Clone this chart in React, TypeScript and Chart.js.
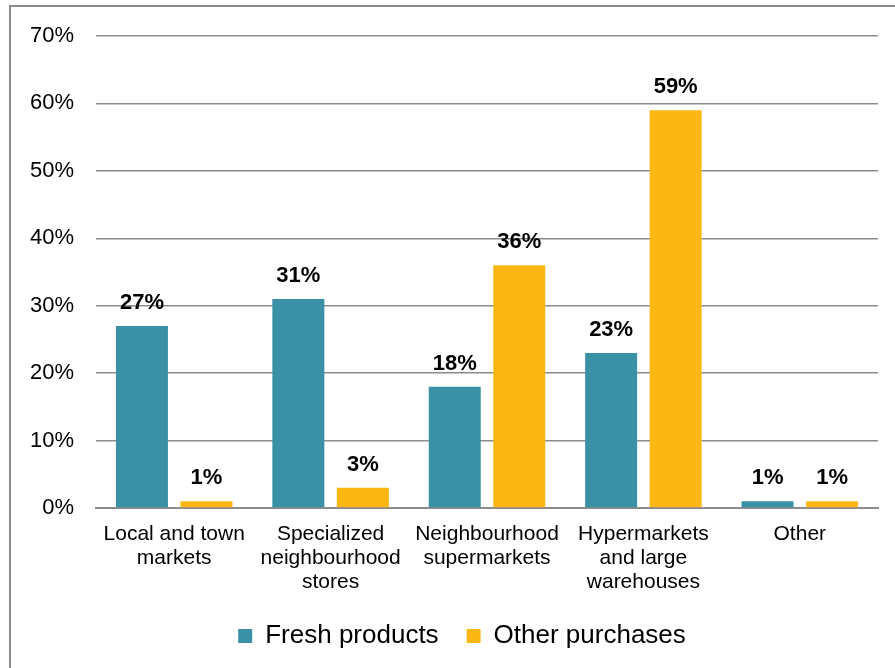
import React, { useEffect, useRef } from "react";
import { Chart, registerables } from "chart.js";

Chart.register(...registerables);

const categories = [
  ["Local and town", "markets"],
  ["Specialized", "neighbourhood", "stores"],
  ["Neighbourhood", "supermarkets"],
  ["Hypermarkets", "and large", "warehouses"],
  ["Other"],
];
const seriesNames = ["Fresh products", "Other purchases"];
const freshProducts = [27, 31, 18, 23, 1];
const otherPurchases = [1, 3, 36, 59, 1];
const yMin = 0;
const yMax = 70;
const yStep = 10;

const FONT = '"Liberation Sans", Arial, Helvetica, sans-serif';
const TEAL = "#3A91A6";
const ORANGE = "#FDB714";
const GRID = "#8C8C8C";

const valueLabels = {
  id: "valueLabels",
  afterDatasetsDraw(chart: any) {
    const ctx = chart.ctx;
    ctx.save();
    ctx.font = `bold 22px ${FONT}`;
    ctx.fillStyle = "#000";
    ctx.textAlign = "center";
    ctx.textBaseline = "alphabetic";
    chart.data.datasets.forEach((ds: any, i: number) => {
      chart.getDatasetMeta(i).data.forEach((bar: any, j: number) => {
        ctx.fillText(`${ds.data[j]}%`, bar.x, bar.y - 17);
      });
    });
    ctx.restore();
  },
};

const legendShift = {
  id: "legendShift",
  afterLayout(chart: any) {
    if (chart.legend) {
      chart.legend.left += 46;
    }
  },
};

export default function App() {
  const ref = useRef<HTMLCanvasElement | null>(null);
  useEffect(() => {
    if (!ref.current) return;
    const chart = new Chart(ref.current, {
      type: "bar",
      data: {
        labels: categories,
        datasets: [
          {
            label: seriesNames[0],
            data: freshProducts,
            backgroundColor: TEAL,
            categoryPercentage: 0.825,
            barPercentage: 0.806,
          },
          {
            label: seriesNames[1],
            data: otherPurchases,
            backgroundColor: ORANGE,
            categoryPercentage: 0.825,
            barPercentage: 0.806,
          },
        ],
      },
      options: {
        animation: false,
        responsive: false,
        maintainAspectRatio: false,
        layout: { padding: { top: 36, right: 17, left: 0, bottom: 9 } },
        plugins: {
          tooltip: { enabled: false },
          legend: {
            position: "bottom",
            labels: {
              boxWidth: 14,
              boxHeight: 14,
              padding: 28,
              color: "#000",
              font: { family: FONT, size: 26 },
            },
          },
        },
        scales: {
          x: {
            grid: { display: false, drawTicks: false },
            border: { display: true, color: GRID, width: 2 },
            ticks: {
              color: "#000",
              padding: 14,
              maxRotation: 0,
              autoSkip: false,
              font: { family: FONT, size: 21, lineHeight: 24 / 21 },
            },
            afterFit: (scale: any) => {
              scale.height = 87;
            },
          },
          y: {
            min: yMin,
            max: yMax,
            grid: { color: GRID, lineWidth: 1.5, drawTicks: false },
            border: { display: false },
            ticks: {
              stepSize: yStep,
              color: "#000",
              padding: 22,
              font: { family: FONT, size: 22 },
              callback: (v: any) => `${v}%`,
            },
            afterFit: (scale: any) => {
              scale.width = 96;
            },
          },
        },
      },
      plugins: [valueLabels, legendShift],
    });
    return () => chart.destroy();
  }, []);

  return (
    <div
      style={{
        position: "fixed",
        left: 0,
        top: 0,
        width: 895,
        height: 668,
        overflow: "hidden",
        background: "#fff",
      }}
    >
      <div
        style={{
          position: "absolute",
          left: 9,
          top: 5,
          width: 886,
          height: 663,
          borderLeft: `2px solid ${GRID}`,
          borderTop: `2px solid ${GRID}`,
          boxSizing: "border-box",
        }}
      />
      <canvas
        ref={ref}
        width={895}
        height={668}
        style={{ position: "absolute", left: 0, top: 0 }}
      />
    </div>
  );
}
